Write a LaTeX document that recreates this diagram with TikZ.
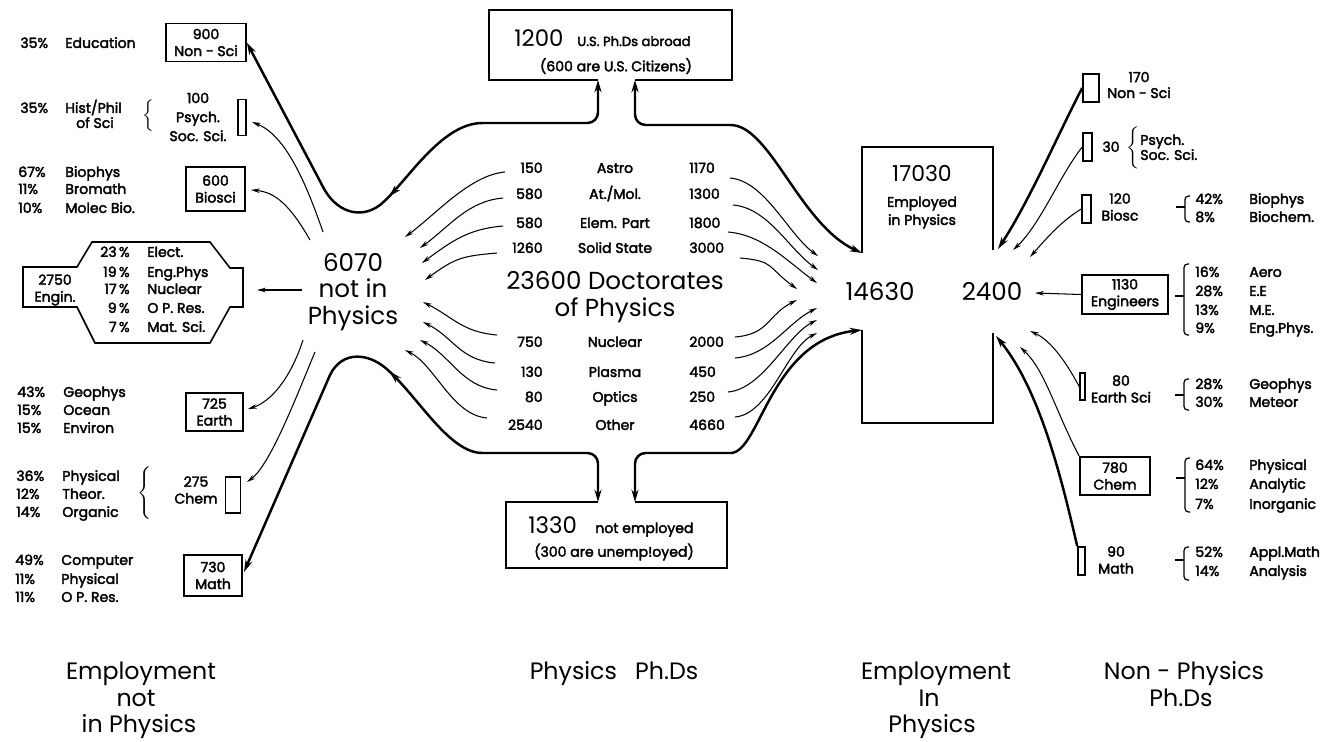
\documentclass[tikz,border=0pt]{standalone}
\usepackage{fontspec}
\setmainfont{Poppins}
\newfontfamily\lblfont{Poppins}[FakeBold=2.5]
\usetikzlibrary{arrows.meta,positioning,decorations.markings}

\newcommand{\fsz}[2]{\fontsize{#1}{#2}\selectfont}
% side bracket with a tick: x, top, bottom, tick
\newcommand{\sidebrk}[4]{%
  \draw[line width=0.7pt, rounded corners=2pt] (#1+5,#2) -- (#1,#2) -- (#1,#3) -- (#1+5,#3);
  \draw[line width=0.7pt] (#1,#4) -- (#1-9,#4);}

\begin{document}
\begin{tikzpicture}[x=0.02cm, y=-0.02cm,
  lbl/.style={font=\lblfont\fsz{8}{9.6}, inner sep=0pt, text height=5.6pt, text depth=0pt},
  blk/.style={font=\lblfont\fsz{8}{9.6}, inner sep=0pt, align=center},
  big/.style={font=\fsz{14}{15}, inner sep=0pt, align=center},
  head/.style={font=\fsz{13.5}{15}, inner sep=0pt, text height=9.4pt, text depth=0pt},
  box/.style={draw, line width=0.9pt, inner sep=0pt, font=\lblfont\fsz{8}{9.6}, align=center},
  wall/.style={line width=0.9pt},
  flow/.style={-{Stealth[length=5pt,width=2.6pt]}, line width=0.6pt},
  thickflow/.style={-{Stealth[length=7pt,width=4pt]}, line width=1.4pt},
  bigflow/.style={{Stealth[length=7pt,width=4pt]}-{Stealth[length=7pt,width=4pt]}, line width=1.4pt},
  midarrow/.style={postaction={decorate}, decoration={markings,
    mark=at position #1 with {\arrow{Stealth[length=7pt,width=4pt]}}}}
]
\useasboundingbox (0,0) rectangle (1325,741);

% ---------------- left: employment not in physics
\node[box, minimum width=1.6cm, minimum height=0.76cm] (nonsci) at (206,42.5) {900\\Non - Sci};
\node[box, minimum width=0.16cm, minimum height=0.72cm] (psyrect) at (242,117.5) {};
\node[blk, font=\lblfont\fsz{8}{10.8}] (psy) at (198,117) {100\\Psych.\\Soc. Sci.};
\node[inner sep=0pt] (histbrace) at (149,116) {$\left\{\vrule height 7pt depth 7pt width 0pt\right.$};
\node[box, minimum width=1.18cm, minimum height=0.88cm] (biosci) at (215.5,189) {600\\Biosci};
\node[box, minimum width=1.14cm, minimum height=0.76cm] (earth) at (214.5,412) {725\\Earth};
\node[box, minimum width=0.3cm, minimum height=0.72cm] (chemrect) at (233,495) {};
\node[blk] (chem) at (196,490) {275\\Chem};
\node[inner sep=0pt] (chembrace) at (146,493) {$\left\{\vrule height 11pt depth 11pt width 0pt\right.$};
\node[box, minimum width=1.16cm, minimum height=0.82cm] (math) at (213,575.5) {730\\Math};

% left lists
\node[lbl, anchor=west] (p1) at (20,43) {35\%};
\node[lbl, anchor=west] (f1) at (65,43) {Education};
\node[lbl, anchor=west] (p2) at (20,108) {35\%};
\node[lbl, anchor=west] (f2) at (65,108) {Hist/Phil};
\node[lbl] (f2b) at (95,123) {of Sci};
\foreach \p/\f/\y [count=\i] in {67/Biophys/172, 11/Bromath/189, 10/Molec Bio./208} {
  \node[lbl, anchor=west] (bp\i) at (18,\y) {\p\%};
  \node[lbl, anchor=west] (bf\i) at (65,\y) {\f};
}
\foreach \p/\f/\y [count=\i] in {43/Geophys/392, 15/Ocean/410, 15/Environ/428} {
  \node[lbl, anchor=west] (ep\i) at (17,\y) {\p\%};
  \node[lbl, anchor=west] (ef\i) at (63,\y) {\f};
}
\foreach \p/\f/\y [count=\i] in {36/Physical/476, 12/Theor./494, 14/Organic/512} {
  \node[lbl, anchor=west] (cp\i) at (16,\y) {\p\%};
  \node[lbl, anchor=west] (cf\i) at (62,\y) {\f};
}
\foreach \p/\f/\y [count=\i] in {49/Computer/560, 11/Physical/579, 11/O P. Res./597} {
  \node[lbl, anchor=west] (mp\i) at (15,\y) {\p\%};
  \node[lbl, anchor=west] (mf\i) at (61,\y) {\f};
}

% engineering hexagon
\draw[wall] (92,242) -- (210,242) -- (230,268) -- (243,268) -- (243,307) -- (230,307)
  -- (210,343) -- (95,343) -- (77,307) -- (23,307) -- (23,267) -- (77,267) -- cycle;
\node[blk] (engin) at (55,290) {2750\\Engin.};
\foreach \p/\f/\y [count=\i] in {23/Elect./252, 19/Eng.Phys/272, 17/Nuclear/289, 9/O P. Res./308, 7/Mat. Sci./327} {
  \node[lbl, anchor=east] (gp\i) at (130,\y) {\p\,\%};
  \node[lbl, anchor=west] (gf\i) at (147,\y) {\f};
}

% ---------------- centre
\node[big] (n6070) at (353,292) {6070\\not in\\Physics};
\node[big, font=\fsz{14}{15.3}] (doct) at (615,297) {23600 Doctorates\\of Physics};
\foreach \l/\m/\r/\y [count=\i] in {150/Astro/1170/168, 580/{At./Mol.}/1300/194, 580/Elem. Part/1800/223,
    1260/Solid State/3000/248, 750/Nuclear/2000/342, 130/Plasma/450/372, 80/Optics/250/397, 2540/Other/4660/425} {
  \node[lbl, anchor=east] (pl\i) at (543,\y) {\l};
  \node[lbl] (pm\i) at (615,\y) {\m};
  \node[lbl, anchor=west] (pr\i) at (689,\y) {\r};
}

% abroad box
\draw[wall] (598,80) -| (489,10) -| (732,80) -- (635,80);
\node[font=\fsz{13}{13}, inner sep=0pt, anchor=base west] (n1200) at (514,46) {1200};
\node[font=\lblfont\fsz{7.5}{7.5}, inner sep=0pt, anchor=base west] (abroad) at (577,46) {U.S. Ph.Ds abroad};
\node[font=\lblfont\fsz{8}{8}, inner sep=0pt] (citz) at (616,66) {(600 are U.S. Citizens)};

% not employed box
\draw[wall] (598,502) -| (506,568) -| (727,502) -- (635,502);
\node[font=\fsz{13}{13}, inner sep=0pt, anchor=base west] (n1330) at (528,533) {1330};
\node[font=\lblfont\fsz{8}{8}, inner sep=0pt, anchor=base west] (notemp) at (595,533) {not employed};
\node[font=\lblfont\fsz{8}{8}, inner sep=0pt] (unemp) at (614,552) {(300 are unemp!oyed)};

% employed in physics box
\draw[wall] (862,253) |- (993,147) -- (993,250);
\draw[wall] (862,330) |- (993,423) -- (993,333);
\node[font=\fsz{12.5}{12.5}, inner sep=0pt, text height=8.7pt, text depth=0pt] (n17030) at (922,174) {17030};
\node[lbl] (empl) at (922,202) {Employed};
\node[lbl] (inphys) at (922,220) {in Physics};
\node[head, font=\fsz{14}{15}, text height=9.8pt] (n14630) at (880,292) {14630};
\node[head, font=\fsz{14}{15}, text height=9.8pt] (n2400) at (992,292) {2400};

% fans into 6070 and 14630
\foreach \sx/\sy/\ex/\ey in {505/172/405/237, 503/198/420/248, 503/226/422/263, 497/253/425/280}
  \draw[flow] (\sx,\sy) .. controls +(-35,3) and +(30,-22) .. (\ex,\ey);
\foreach \sx/\sy/\ex/\ey in {497/335/423/302, 495/363/423/322, 497/390/420/340, 487/418/405/350}
  \draw[flow] (\sx,\sy) .. controls +(-35,-3) and +(30,15) .. (\ex,\ey);
\foreach \sx/\sy/\ex/\ey in {730/178/818/256, 733/205/818/270, 728/232/817/283, 740/258/797/289}
  \draw[flow] (\sx,\sy) .. controls +(35,3) and +(-30,-22) .. (\ex,\ey);
\foreach \sx/\sy/\ex/\ey in {735/337/797/300, 735/358/817/308, 728/392/817/320, 735/417/817/333}
  \draw[flow] (\sx,\sy) .. controls +(35,-3) and +(-30,15) .. (\ex,\ey);

% thick flows round the boxes
\draw[bigflow, midarrow=0.53] (598,80) [rounded corners=6pt] |- (493,123) [sharp corners]
  .. controls (440,123) and (405,185) .. (380,205)
  .. controls (360,220) and (335,212) .. (322,185) -- (nonsci.east);
\draw[bigflow, midarrow=0.5] (598,502) [rounded corners=6pt] |- (493,453) [sharp corners]
  .. controls (450,453) and (420,400) .. (390,372)
  .. controls (370,352) and (342,350) .. (330,375) -- (244,572);
\draw[bigflow] (635,80) [rounded corners=6pt] |- (720,125) [sharp corners]
  .. controls (770,125) and (800,225) .. (862,253);
\draw[bigflow] (635,502) [rounded corners=6pt] |- (720,453) [sharp corners]
  .. controls (760,453) and (770,340) .. (862,330);

% out of 6070
\coordinate (o1) at (323,232);
\coordinate (o2) at (310,240);
\coordinate (o3) at (302,290);
\coordinate (o4) at (303,340);
\coordinate (o5) at (315,352);
\draw[flow] (o1) .. controls (305,180) and (285,135) .. (252,122);
\draw[flow] (o2) .. controls (290,205) and (275,192) .. (251,190);
\draw[flow] (o3) -- (257,290);
\draw[flow] (o4) .. controls (290,380) and (270,402) .. (248,409);
\draw[flow] (o5) .. controls (295,400) and (270,465) .. (247,482);

% ---------------- right: non-physics Ph.Ds
\node[box, minimum width=0.32cm, minimum height=0.56cm] (r170) at (1091,88) {};
\node[blk, font=\lblfont\fsz{8}{9}] (t170) at (1139,85) {170\\Non - Sci};
\node[box, minimum width=0.18cm, minimum height=0.56cm] (r30) at (1087.5,147) {};
\node[lbl] (t30) at (1111,147) {30};
\node[inner sep=0pt] (psybrace) at (1134,148) {$\left\{\vrule height 7.5pt depth 7.5pt width 0pt\right.$};
\node[lbl, anchor=west] (t30a) at (1140,140) {Psych.};
\node[lbl, anchor=west] (t30b) at (1140,155) {Soc. Sci.};
\node[box, minimum width=0.18cm, minimum height=0.56cm] (r120) at (1086.5,209) {};
\node[blk] (t120) at (1120,207) {120\\Biosc};
\node[box, minimum width=1.72cm, minimum height=0.78cm] (eng) at (1125,294.5) {1130\\Engineers};
\node[box, minimum width=0.1cm, minimum height=0.54cm] (r80) at (1082.5,386.5) {};
\node[blk] (t80) at (1121,389) {80\\Earth Sci};
\node[box, minimum width=1.4cm, minimum height=0.76cm] (chemr) at (1115,476) {780\\Chem};
\node[box, minimum width=0.14cm, minimum height=0.56cm] (r90) at (1081.5,561) {};
\node[blk] (t90) at (1116,560) {90\\Math};

\sidebrk{1185}{196}{222}{207}
\sidebrk{1184}{264}{335}{296}
\sidebrk{1184}{379}{410}{395}
\sidebrk{1185}{458}{512}{478}
\sidebrk{1184}{547}{580}{560}

\foreach \p/\f/\y [count=\i] in {42/Biophys/199, 8/Biochem./217, 16/Aero/272, 28/E.E/291, 13/M.E./310,
    9/Eng.Phys./328, 28/Geophys/384, 30/Meteor/402, 64/Physical/465, 12/Analytic/484, 7/Inorganic/504,
    52/Appl.Math/552, 14/Analysis/571} {
  \node[lbl, anchor=west] (rp\i) at (1195,\y) {\p\%};
  \node[lbl, anchor=west] (rf\i) at (1249,\y) {\f};
}

% into 2400
\draw[thickflow] (r170.west) .. controls (1060,130) and (1030,200) .. (998,249);
\draw[flow] (r30.west) .. controls (1060,175) and (1040,225) .. (1013,250);
\draw[flow] (r120.west) .. controls (1060,222) and (1045,240) .. (1030,257);
\draw[flow] (eng.west) -- (1035,293);
\draw[flow] (r80.west) .. controls (1065,360) and (1050,340) .. (1030,331);
\draw[flow] (chemr.north west) .. controls (1055,410) and (1045,370) .. (1020,347);
\draw[thickflow] (r90.north west) .. controls (1062,480) and (1040,390) .. (996,336);

% ---------------- column titles
\node[head] (h1a) at (141,671) {Employment};
\node[head] (h1b) at (136,698) {not};
\node[head] (h1c) at (139,724) {in Physics};
\node[head] (h2) at (614,671) {Physics\hspace{0.5em} Ph.Ds};
\node[head] (h3a) at (936,671) {Employment};
\node[head] (h3b) at (929,698) {In};
\node[head] (h3c) at (932,724) {Physics};
\node[head] (h4a) at (1184,671) {Non - Physics};
\node[head] (h4b) at (1181,698) {Ph.Ds};
\end{tikzpicture}
\end{document}
